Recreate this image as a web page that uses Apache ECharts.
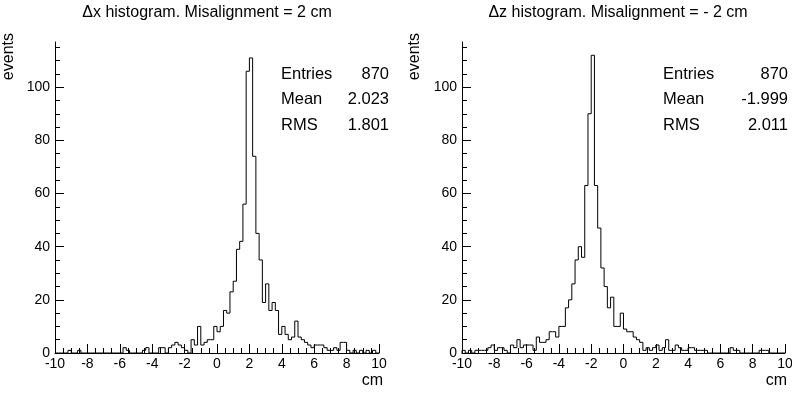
<!DOCTYPE html>
<html><head><meta charset="utf-8">
<script src="https://cdn.jsdelivr.net/npm/echarts@6/dist/echarts.min.js"></script>
<style>html,body{margin:0;padding:0;background:#fff}#c{width:792px;height:394px}</style>
</head><body><div id="c"></div>
<script>
// histogram binning: 100 bins of 0.2 cm from -10 to 10
const binLow = -10;
const binWidth = 0.2;
// Δx histogram counts (bins from -10 to 10)
const dxCounts = [
  0,0,0,0,1,0,0,1,0,0,
  0,0,0,0,0,0,0,0,0,0,
  0,2,1,0,0,0,0,1,2,0,
  0,0,2,2,0,2,3,4,3,2,
  1,0,5,3,10,3,4,5,5,10,
  8,10,16,15,23,27,39,42,56,106,
  111,74,45,35,19,26,16,19,16,7,
  10,7,5,6,12,6,5,4,3,2,
  3,3,3,2,1,1,2,1,4,4,
  1,0,1,0,1,0,1,0,1,0
];
// Δz histogram counts (bins from -10 to 10)
const dzCounts = [
  1,0,1,0,1,1,1,1,2,3,
  1,2,2,1,0,3,2,5,2,3,
  3,3,1,6,4,4,5,8,8,6,
  10,10,17,20,26,35,40,36,63,90,
  112,63,47,32,25,17,21,10,10,15,
  9,8,8,6,5,4,1,2,1,2,
  3,1,2,5,1,1,3,2,1,1,
  2,2,1,1,1,1,0,0,0,0,
  0,0,0,2,1,1,0,0,0,0,
  0,0,1,1,1,0,0,0,0,0
];
const titles = ['\u0394x histogram. Misalignment = 2 cm', '\u0394z histogram. Misalignment = - 2 cm'];
const statLabels = ['Entries', 'Mean', 'RMS'];
const dxStats = ['870', '2.023', '1.801'];
const dzStats = ['870', '-1.999', '2.011'];
const yMajorTicks = [0, 20, 40, 60, 80, 100];
const yMinorTicks = [5, 10, 15, 25, 30, 35, 45, 50, 55, 65, 70, 75, 85, 90, 95, 105, 110, 115];
const xAxisTitle = 'cm';
const yAxisTitle = 'events';

const FONT = 'Liberation Sans, Arial, Helvetica, sans-serif';

function stepPoints(counts) {
  const pts = [[binLow, 0]];
  counts.forEach((v, i) => pts.push([binLow + binWidth * i, v]));
  const hi = binLow + binWidth * counts.length;
  pts.push([hi, counts[counts.length - 1]]);
  pts.push([hi, 0]);
  return pts;
}

const grids = [
  {left: 55, top: 42, width: 324, height: 311, containLabel: false, outerBoundsMode: 'none'},
  {left: 462, top: 42, width: 323, height: 311, containLabel: false, outerBoundsMode: 'none'}
];

const xAxes = [], yAxes = [], series = [];
[dxCounts, dzCounts].forEach((counts, g) => {
  xAxes.push({
    type: 'value', gridIndex: g, min: -10, max: 10, interval: 2, position: 'bottom',
    axisLine: {show: true, onZero: false, lineStyle: {color: '#000', width: 1}},
    axisTick: {show: true, inside: true, length: 9, lineStyle: {color: '#000', width: 1}},
    minorTick: {show: true, splitNumber: 4, length: 5, lineStyle: {color: '#000', width: 1}},
    axisLabel: {color: '#000', fontFamily: FONT, fontSize: 14, margin: 4},
    splitLine: {show: false}, minorSplitLine: {show: false}
  });
  yAxes.push({
    type: 'value', gridIndex: g, min: 0, max: 117, position: 'left',
    axisLine: {show: true, onZero: false, lineStyle: {color: '#000', width: 1}},
    axisTick: {show: true, inside: true, length: 9, customValues: yMajorTicks, lineStyle: {color: '#000', width: 1}},
    axisLabel: {color: '#000', fontFamily: FONT, fontSize: 14, margin: 5, customValues: yMajorTicks},
    splitLine: {show: false}
  });
  yAxes.push({
    type: 'value', gridIndex: g, min: 0, max: 117, position: 'left', offset: 0,
    axisLine: {show: false, onZero: false},
    axisTick: {show: true, inside: true, length: 5, customValues: yMinorTicks, lineStyle: {color: '#000', width: 1}},
    axisLabel: {show: false},
    splitLine: {show: false}
  });
  series.push({
    type: 'line', xAxisIndex: g, yAxisIndex: g * 2, step: 'end',
    data: stepPoints(counts), showSymbol: false, symbol: 'none',
    lineStyle: {color: '#000', width: 1}, silent: true, animation: false
  });
});

const graphics = [];
const statFont = '16.5px ' + FONT;
function addStats(values, labelX, valueX) {
  statLabels.forEach((lab, i) => {
    const y = 74 + i * 25.5;
    graphics.push({type: 'text', x: labelX, y: y, style: {text: lab, font: statFont, fill: '#000', textAlign: 'left', textVerticalAlign: 'middle'}});
    graphics.push({type: 'text', x: valueX, y: y, style: {text: values[i], font: statFont, fill: '#000', textAlign: 'right', textVerticalAlign: 'middle'}});
  });
}
addStats(dxStats, 281, 389);
addStats(dzStats, 663, 788);
graphics.push({type: 'text', x: 207, y: 13, style: {text: titles[0], font: '16px ' + FONT, fill: '#000', textAlign: 'center', textVerticalAlign: 'middle'}});
graphics.push({type: 'text', x: 618, y: 13, style: {text: titles[1], font: '16px ' + FONT, fill: '#000', textAlign: 'center', textVerticalAlign: 'middle'}});
graphics.push({type: 'text', x: 383, y: 381, style: {text: xAxisTitle, font: '16px ' + FONT, fill: '#000', textAlign: 'right', textVerticalAlign: 'middle'}});
graphics.push({type: 'text', x: 787, y: 381, style: {text: xAxisTitle, font: '16px ' + FONT, fill: '#000', textAlign: 'right', textVerticalAlign: 'middle'}});
graphics.push({type: 'text', x: 9, y: 33, rotation: Math.PI / 2, style: {text: yAxisTitle, font: '16px ' + FONT, fill: '#000', textAlign: 'right', textVerticalAlign: 'middle'}});
graphics.push({type: 'text', x: 415, y: 33, rotation: Math.PI / 2, style: {text: yAxisTitle, font: '16px ' + FONT, fill: '#000', textAlign: 'right', textVerticalAlign: 'middle'}});

const chart = echarts.init(document.getElementById('c'), null, {renderer: 'canvas'});
chart.setOption({
  animation: false,
  backgroundColor: '#fff',
  grid: grids,
  xAxis: xAxes,
  yAxis: yAxes,
  series: series,
  graphic: graphics
});
</script></body></html>
